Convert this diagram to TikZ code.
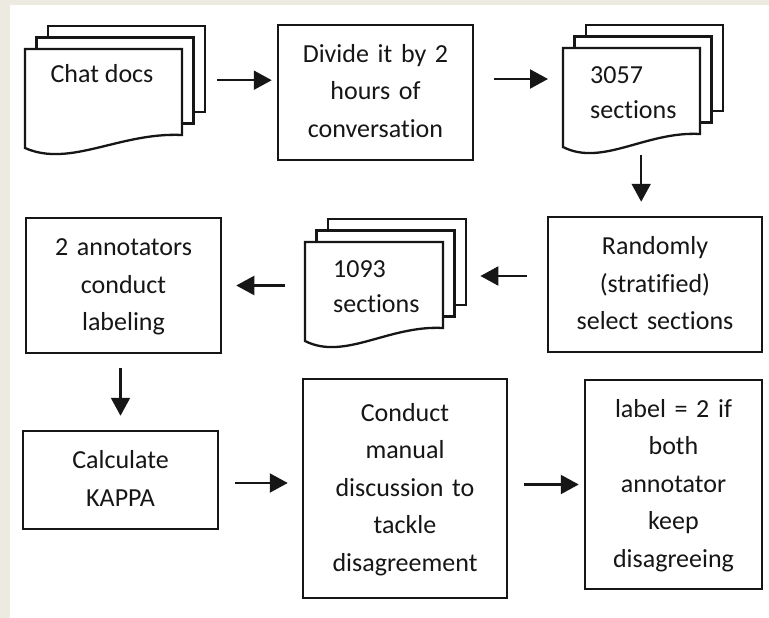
\documentclass[tikz,border=0pt]{standalone}
\usepackage{fontspec}
\setmainfont{Carlito}[Ligatures=NoCommon]
\usetikzlibrary{arrows.meta,calc}
\definecolor{margin}{RGB}{237,234,225}
\definecolor{ink}{RGB}{22,22,22}

% A stack of three pages with a wavy bottom edge on the front page.
% #1 node name, #2 left and #3 top of the front page, #4 its width.
\newcommand\docstack[4]{%
  \draw[page] (#2+23,#3-23) rectangle (#2+#4+23,#3+63);
  \draw[page] (#2+11.5,#3-11.5) rectangle (#2+#4+11.5,#3+74.5);
  \draw[page] (#2,#3) -- (#2+#4,#3) -- (#2+#4,#3+86)
    .. controls (#2+0.605*#4,#3+83) and (#2+0.287*#4,#3+119) .. (#2,#3+99) -- cycle;
  \node[inner sep=0pt, minimum width=#4+23, minimum height=122, anchor=north west]
    (#1) at (#2,#3-23) {};%
}

\begin{document}
\begin{tikzpicture}[x=1pt,y=-1pt,
  page/.style={draw=ink, line width=2.3pt, fill=white, line join=miter},
  stepbox/.style={draw=ink, line width=2.5pt, fill=white, inner sep=0pt,
    align=center, text=ink, font=\fontsize{26}{37.5}\selectfont,
    execute at begin node=\strut, execute at end node=\strut},
  flow/.style={draw=ink, line width=2.2pt, -{Triangle[length=18pt,width=19pt]}},
  doctext/.style={text=ink, inner sep=0pt, font=\fontsize{26}{35}\selectfont},
  doclines/.style={doctext, align=left, text width=140,
    execute at begin node=\strut, execute at end node=\strut}
]
\useasboundingbox (0,0) rectangle (769,618);
\fill[margin] (0,0) rectangle (769,618);
\fill[white] (10,5) rectangle (769,618);

% document stacks
\docstack{chat}{25}{49}{157}
\docstack{s3057}{563}{48}{137}
\docstack{s1093}{305}{242}{138}

\node[doctext, anchor=base] (chattext) at (102,83) {Chat docs};
\node[doclines, anchor=north west] (s3057text) at (590,58.5) {3057\\sections};
\node[doclines, anchor=north west] (s1093text) at (333,252.5) {1093\\sections};

% process boxes
\node[stepbox, minimum width=195, minimum height=135, text width=190] (divide)
  at (375.5,92.5) {Divide it by 2\\hours of\\conversation};
\node[stepbox, minimum width=214, minimum height=135, text width=208] (random)
  at (655,284.5) {Randomly\\(stratified)\\select sections};
\node[stepbox, minimum width=195, minimum height=135, text width=190] (ann)
  at (123.5,285.5) {2 annotators\\conduct\\labeling};
\node[stepbox, minimum width=195, minimum height=98, text width=190] (kappa)
  at (120.5,480) {Calculate\\KAPPA};
\node[stepbox, minimum width=204, minimum height=219, text width=198] (conduct)
  at (405,488.5) {Conduct\\manual\\discussion to\\tackle\\disagreement};
\node[stepbox, minimum width=177, minimum height=209, text width=172] (label)
  at (673.5,484.5) {label = 2 if\\both\\annotator\\keep\\disagreeing};

% connectors
\draw[flow, shorten <=12pt, shorten >=5pt]
  ([yshift=7pt]chat.east) -- ([yshift=7pt]chat.east -| divide.west);
\draw[flow, shorten <=20pt, shorten >=15pt]
  ([yshift=13.5pt]divide.east) -- ([yshift=13.5pt]divide.east -| s3057.west);
\draw[flow, shorten <=8pt, shorten >=14pt]
  ([xshift=-2pt]s3057.south) -- ([xshift=-2pt]s3057.south |- random.north);
\draw[flow, shorten <=20pt, shorten >=14pt]
  ([yshift=8.5pt]random.west) -- ([yshift=8.5pt]random.west -| s1093.east);
\draw[flow, shorten <=20pt, shorten >=14pt]
  (s1093.west |- ann.east) -- (ann.east);
\draw[flow, shorten <=14pt, shorten >=14pt]
  (ann.south -| kappa.north) -- (kappa.north);
\draw[flow, shorten <=16pt, shorten >=14pt]
  ([yshift=-3pt]kappa.east) -- ([yshift=-3pt]kappa.east -| conduct.west);
\draw[flow, shorten <=16pt, shorten >=5pt]
  (conduct.east |- label.west) -- (label.west);
\end{tikzpicture}
\end{document}
